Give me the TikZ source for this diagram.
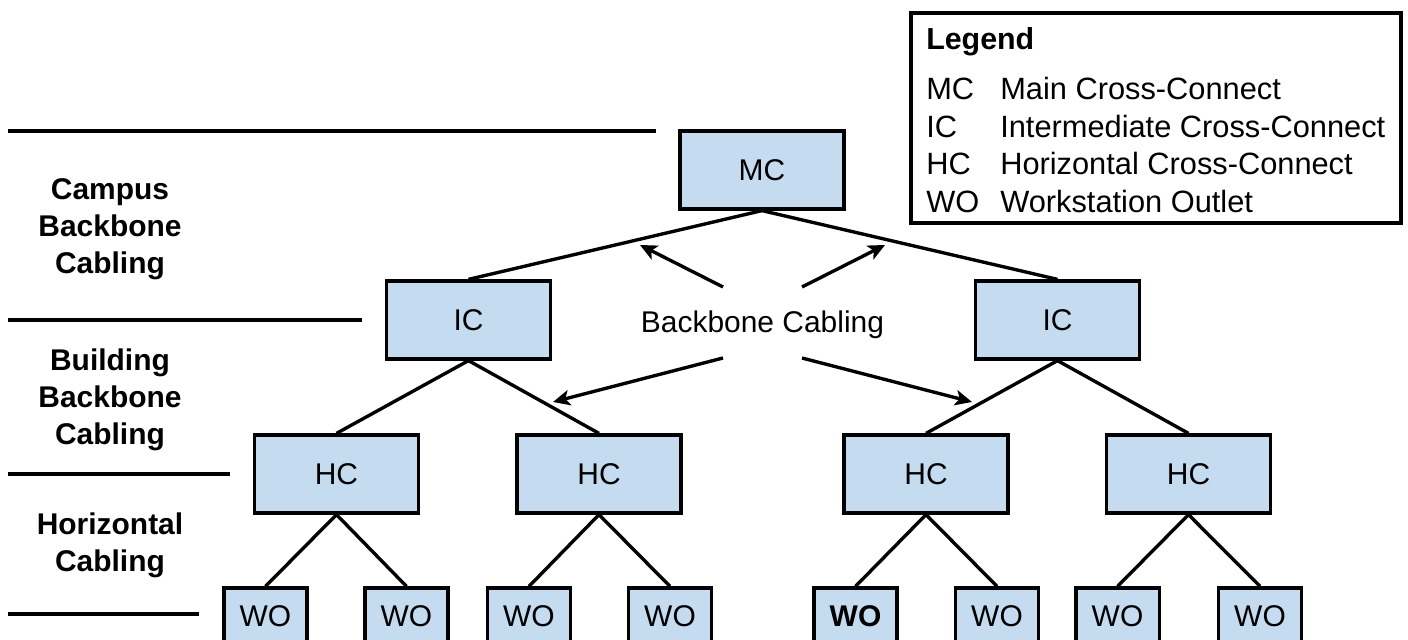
\documentclass[tikz,border=0pt]{standalone}
\usepackage{fontspec}
\setmainfont{Liberation Sans}
\usetikzlibrary{arrows.meta}

\definecolor{boxblue}{RGB}{197,220,240}

\tikzset{
  box/.style={draw, line width=2.3pt, fill=boxblue, minimum width=4.1cm, minimum height=1.95cm, inner sep=0pt},
  wobox/.style={box, minimum width=2.08cm, minimum height=1.4cm},
  cable/.style={line width=2.4pt},
  ptr/.style={line width=2.4pt, -{Stealth[length=12pt,width=11pt,inset=3pt]}},
  lvl/.style={font=\fontsize{21.3}{26.3}\selectfont\bfseries, align=center},
  sep/.style={line width=2.4pt},
  lgtext/.style={anchor=base west, inner sep=0pt, font=\fontsize{21.9}{26.3}\selectfont},
}

\begin{document}
\begin{tikzpicture}[x=0.25cm, y=0.25cm, font=\fontsize{21.3}{26.3}\selectfont]
\useasboundingbox (0,0) rectangle (140.8,64);
\clip (0,0) rectangle (140.8,64);

% level separators
\draw[sep] (0.8,50.9) -- (65.6,50.9);
\draw[sep] (0.8,32.0) -- (36.2,32.0);
\draw[sep] (0.8,16.6) -- (23.0,16.6);
\draw[sep] (0.8,2.6) -- (19.9,2.6);

% level names
\node[lvl] (campus) at (11.0,41.1) {Campus\\Backbone\\Cabling};
\node[lvl] (building) at (11.0,24.0) {Building\\Backbone\\Cabling};
\node[lvl] (horiz) at (11.0,9.45) {Horizontal\\Cabling};

% cross-connects
\node[box] (mc) at (76.2,47.0) {MC};
\node[box] (icl) at (46.85,32.0) {IC};
\node[box] (icr) at (105.75,32.0) {IC};
\node[box] (hc1) at (33.65,16.6) {HC};
\node[box] (hc2) at (59.9,16.6) {HC};
\node[box] (hc3) at (92.6,16.6) {HC};
\node[box] (hc4) at (118.85,16.6) {HC};

% outlets
\node[wobox] (wo1) at (26.55,2.4) {WO};
\node[wobox] (wo2) at (40.65,2.4) {WO};
\node[wobox] (wo3) at (52.9,2.4) {WO};
\node[wobox] (wo4) at (67.0,2.4) {WO};
\node[wobox] (wo5) at (85.55,2.4) {\bfseries WO};
\node[wobox] (wo6) at (99.7,2.4) {WO};
\node[wobox] (wo7) at (111.75,2.4) {WO};
\node[wobox] (wo8) at (126.0,2.4) {WO};

% cabling
\draw[cable] (mc.south) -- (icl.north);
\draw[cable] (mc.south) -- (icr.north);
\draw[cable] (icl.south) -- (hc1.north);
\draw[cable] (icl.south) -- (hc2.north);
\draw[cable] (icr.south) -- (hc3.north);
\draw[cable] (icr.south) -- (hc4.north);
\foreach \h/\a/\b in {1/1/2, 2/3/4, 3/5/6, 4/7/8} {
  \draw[cable] (hc\h.south) -- (wo\a.north);
  \draw[cable] (hc\h.south) -- (wo\b.north);
}

% backbone label and pointers
\node[anchor=base] (bbc) at (76.25,30.7) {Backbone Cabling};
\coordinate (tul) at (72.3,35.3);
\coordinate (tur) at (80.2,35.3);
\coordinate (tll) at (72.3,28.2);
\coordinate (tlr) at (80.2,28.2);
\coordinate (pul) at (64.0,39.5);
\coordinate (pur) at (88.5,39.5);
\coordinate (pll) at (55.3,23.8);
\coordinate (plr) at (97.2,23.8);
\draw[ptr] (tul) -- (pul);
\draw[ptr] (tur) -- (pur);
\draw[ptr] (tll) -- (pll);
\draw[ptr] (tlr) -- (plr);

% legend
\node[draw, line width=2.3pt, minimum width=12.25cm, minimum height=5.25cm] (legend) at (115.6,52.2) {};
\node[lgtext, font=\fontsize{21.6}{26.3}\selectfont\bfseries] (lgtitle) at (92.6,59.0) {Legend};
\foreach \ab/\desc/\y [count=\i] in {MC/Main Cross-Connect/54.0, IC/Intermediate Cross-Connect/50.25, HC/Horizontal Cross-Connect/46.5, WO/Workstation Outlet/42.75} {
  \node[lgtext] (lgab\i) at (92.6,\y) {\ab};
  \node[lgtext] (lgde\i) at (100.0,\y) {\desc};
}
\end{tikzpicture}
\end{document}
